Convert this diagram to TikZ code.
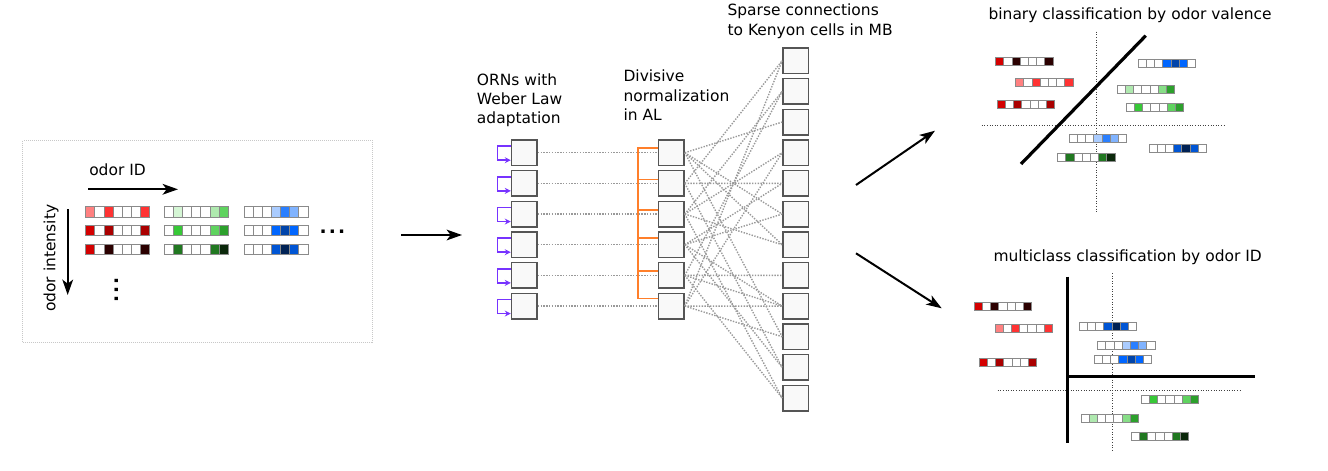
\documentclass[tikz,border=0pt]{standalone}
\usepackage{fontspec}
\setmainfont{DejaVu Sans}
\usetikzlibrary{arrows.meta,calc}
\definecolor{lr}{HTML}{FF8080}
\definecolor{br}{HTML}{FF3333}
\definecolor{rr}{HTML}{D40000}
\definecolor{mr}{HTML}{AA0000}
\definecolor{dr}{HTML}{2B0000}
\definecolor{ga}{HTML}{D5F6D5}
\definecolor{gb}{HTML}{AFE9AF}
\definecolor{gc}{HTML}{5FD35F}
\definecolor{gd}{HTML}{37C837}
\definecolor{ge}{HTML}{2CA02C}
\definecolor{gf}{HTML}{217821}
\definecolor{gg}{HTML}{0B280B}
\definecolor{gh}{HTML}{87DE87}
\definecolor{ba}{HTML}{AACCFF}
\definecolor{bb}{HTML}{2A7FFF}
\definecolor{bc}{HTML}{80B3FF}
\definecolor{bd}{HTML}{0066FF}
\definecolor{be}{HTML}{0044AA}
\definecolor{bf}{HTML}{0055D4}
\definecolor{bg}{HTML}{002255}
\definecolor{cellgray}{HTML}{8A8A8A}
\definecolor{boxgray}{HTML}{555555}
\definecolor{boxfill}{HTML}{F9F9F9}
\definecolor{conngray}{HTML}{999999}
\definecolor{loopc}{HTML}{7733FF}
\definecolor{orn}{HTML}{FF7F2A}
\definecolor{framegray}{HTML}{C8C8C8}
\newcommand\odorvec[5]{%
  \foreach \cc [count=\ii from 0] in #5
    \draw[cellbox, fill=\cc] ({#1+\ii*#3},{#2-#4/2}) rectangle ++(#3,#4);}
\def\RA{lr,white,br,white,white,white,br}
\def\RB{rr,white,mr,white,white,white,mr}
\def\RC{rr,white,dr,white,white,white,dr}
\def\GL{white,ga,white,white,white,gb,gc}
\def\GS{white,gb,white,white,white,gh,ge}
\def\GB{white,gd,white,white,white,gc,ge}
\def\GC{white,gf,white,white,white,gf,gg}
\def\BA{white,white,white,ba,bb,bc,white}
\def\BB{white,white,white,bd,be,bd,white}
\def\BC{white,white,white,bf,bg,bf,white}
\begin{document}
\begin{tikzpicture}[x=0.75pt,y=-0.75pt,
  font=\fontsize{11.6}{14}\selectfont,
  cellbox/.style={draw=cellgray, line width=0.7pt},
  nbox/.style={draw=boxgray, fill=boxfill, line width=1.1pt, minimum size=19.2pt, inner sep=0pt},
  conn/.style={draw=conngray, line width=1.05pt, dash pattern=on 1.05pt off 1.05pt},
  bigarrow/.style={line width=1.5pt, -{Stealth[length=11.5pt,width=8pt,inset=3pt]}},
  axisdot/.style={draw=black!75, line width=0.65pt, dash pattern=on 0.75pt off 1.2pt},
  sepline/.style={line width=2.4pt},
  lbl/.style={anchor=base west, inner sep=0pt},
  fbloop/.style={draw=loopc, line width=1.4pt, -{Stealth[length=4.5pt,width=4.5pt]}},
  orangeline/.style={draw=orn, line width=1.25pt},
  dotsstyle/.style={inner sep=0pt, font=\fontsize{14}{14}\selectfont\bfseries}]
\useasboundingbox (0,0) rectangle (1328,471);

% ---------- left panel ----------
\draw[draw=framegray, line width=0.75pt, dash pattern=on 0.75pt off 0.75pt] (22.7,140.7) rectangle (372.7,342.7);
\node[lbl] (tid) at (89,175) {odor ID};
\coordinate (idS) at (88,189.3);
\coordinate (idE) at (178,189.3);
\draw[bigarrow] (idS) -- (idE);
\node[rotate=90, inner sep=0pt] (tint) at (51,258.3) {odor intensity};
\coordinate (inS) at (67.7,209);
\coordinate (inE) at (67.7,295);
\draw[bigarrow] (inS) -- (inE);

\odorvec{85.7}{212}{9.15}{10.5}{\RA}
\odorvec{85.7}{230.7}{9.15}{10.5}{\RB}
\odorvec{85.7}{249.3}{9.15}{10.5}{\RC}
\odorvec{164.3}{212}{9.15}{10.5}{\GL}
\odorvec{164.3}{230.7}{9.15}{10.5}{\GB}
\odorvec{164.3}{249.3}{9.15}{10.5}{\GC}
\odorvec{244}{212}{9.15}{10.5}{\BA}
\odorvec{244}{230.7}{9.15}{10.5}{\BB}
\odorvec{244}{249.3}{9.15}{10.5}{\BC}
\node[dotsstyle, anchor=base] (hdots) at (332.5,233.5) {.\kern1.6pt.\kern1.6pt.};
\node[dotsstyle, anchor=base, rotate=90] (vdots) at (118,290) {.\kern1.6pt.\kern1.6pt.};

\coordinate (a1s) at (401,235);
\coordinate (a1e) at (462,235);
\draw[bigarrow] (a1s) -- (a1e);

% ---------- network ----------
\node[lbl] (t1a) at (476.7,85) {ORNs with};
\node[lbl] (t1b) at (476.7,104.5) {Weber Law};
\node[lbl] (t1c) at (476.7,123.5) {adaptation};
\node[lbl] (t2a) at (623.3,81.7) {Divisive};
\node[lbl] (t2b) at (623.3,101.2) {normalization};
\node[lbl] (t2c) at (623.3,120.6) {in AL};
\node[lbl] (t3a) at (727.3,16) {Sparse connections};
\node[lbl] (t3b) at (727.3,35) {to Kenyon cells in MB};

\foreach \a in {0,...,5} {
  \node[nbox] (orn\a) at (524.3,{152.7+30.67*\a}) {};
  \node[nbox] (al\a) at (671.3,{152.7+30.67*\a}) {};
}
\foreach \k in {0,...,11}
  \node[nbox] (kc\k) at (795.7,{60.7+30.67*\k}) {};

\foreach \a in {0,...,5} {
  \draw[conn] (orn\a.east) -- (al\a.west);
  \draw[fbloop] ($(orn\a.west)+(0,-6.5)$) -- ++(-13.3,0) -- ++(0,14) -- ($(orn\a.west)+(0,7.5)$);
}
\coordinate (spT) at (637.7,148.3);
\coordinate (spB) at (637.7,298.3);
\draw[orangeline] (spT) -- (spB);
\foreach \a/\o in {0/-4.4,1/-4,2/-4,3/-6.6,4/-4.7,5/-7.4}
  \draw[orangeline] ($(al\a.west)+(0,\o)$) -- ++(-20.8,0);

\foreach \a/\k in {0/2,0/5,0/6,0/9,1/4,1/0,1/10,2/3,2/6,2/11,2/1,3/5,3/8,3/10,3/4,4/7,4/8,4/11,4/1,5/0,5/8,5/9,5/3}
  \draw[conn] (al\a.east) -- (kc\k.west);

\coordinate (a2s) at (856,185);
\coordinate (a2e) at (935,130.7);
\draw[bigarrow] (a2s) -- (a2e);
\coordinate (a3s) at (856,253.3);
\coordinate (a3e) at (941.7,308.3);
\draw[bigarrow] (a3s) -- (a3e);

% ---------- binary classification ----------
\node[lbl] (tb) at (988.3,19.5) {binary classification by odor valence};
\draw[axisdot] (1096.3,31.7) -- (1096.3,213);
\draw[axisdot] (981.7,125.3) -- (1225,125.3);
\draw[sepline] (1021,164) -- (1145.7,35.7);
\odorvec{995.7}{61.3}{8.2}{8}{\RC}
\odorvec{1015.7}{82.3}{8.2}{8}{\RA}
\odorvec{997.3}{104}{8.2}{8}{\RB}
\odorvec{1138.3}{63.5}{8.2}{8}{\BB}
\odorvec{1117.3}{89.7}{8.2}{8}{\GS}
\odorvec{1126.3}{107.3}{8.2}{8}{\GB}
\odorvec{1069.3}{138.3}{8.2}{8}{\BA}
\odorvec{1149}{148}{8.2}{8}{\BC}
\odorvec{1057.7}{157.3}{8.2}{8}{\GC}

% ---------- multiclass classification ----------
\node[lbl] (tm) at (993.3,261) {multiclass classification by odor ID};
\draw[axisdot] (1112.3,273) -- (1112.3,450);
\draw[axisdot] (997.7,390.3) -- (1241.7,390.3);
\draw[sepline] (1067.7,276.7) -- (1067.7,442.7);
\draw[sepline] (1067.7,376.3) -- (1255,376.3);
\odorvec{974.3}{306.7}{8.2}{8}{\RC}
\odorvec{995}{328}{8.2}{8}{\RA}
\odorvec{979.3}{362.7}{8.2}{8}{\RB}
\odorvec{1079.3}{326}{8.2}{8}{\BC}
\odorvec{1097.7}{345.3}{8.2}{8}{\BA}
\odorvec{1094.3}{359.3}{8.2}{8}{\BB}
\odorvec{1141.3}{399}{8.2}{8}{\GB}
\odorvec{1081}{418.3}{8.2}{8}{\GS}
\odorvec{1131.3}{436}{8.2}{8}{\GC}
\end{tikzpicture}
\end{document}
